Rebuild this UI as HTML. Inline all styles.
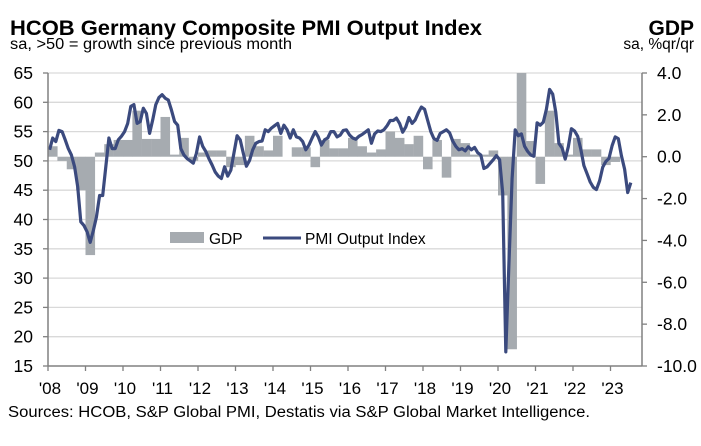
<!DOCTYPE html>
<html><head><meta charset="utf-8"><style>
html,body{margin:0;padding:0;background:#fff;}
svg{display:block;font-family:"Liberation Sans",Arial,sans-serif;}
</style></head><body>
<svg id="chart" width="701" height="446" viewBox="0 0 701 446">
<text x="10" y="35" font-size="21" font-weight="bold" fill="#000" textLength="472" lengthAdjust="spacingAndGlyphs">HCOB Germany Composite PMI Output Index</text>
<text x="10" y="49" font-size="15.5" fill="#000" textLength="282" lengthAdjust="spacingAndGlyphs">sa, &gt;50 = growth since previous month</text>
<text x="694" y="35" font-size="21" font-weight="bold" text-anchor="end" fill="#000">GDP</text>
<text x="694" y="49" font-size="15.5" text-anchor="end" fill="#000">sa, %qr/qr</text>
<g id="grid"></g>
<g id="bars"></g>
<g id="line"></g>
<g id="axes"></g>
<g>
<rect x="170" y="232" width="34" height="11" fill="#a6abb0"/>
<text x="209" y="244" font-size="15.5">GDP</text>
<line x1="263" y1="238" x2="301" y2="238" stroke="#3b4a7e" stroke-width="3"/>
<text x="305" y="244" font-size="15.5">PMI Output Index</text>
</g>
<text x="8" y="417" font-size="15.5" textLength="582" lengthAdjust="spacingAndGlyphs">Sources: HCOB, S&amp;P Global PMI, Destatis via S&amp;P Global Market Intelligence.</text>
</svg>
<script>
const leftTicks = [65,60,55,50,45,40,35,30,25,20,15];
const rightTicks = ["4.0","2.0","0.0","-2.0","-4.0","-6.0","-8.0","-10.0"];
const rightTickValues = [4,2,0,-2,-4,-6,-8,-10];
const yearLabels = ["'08","'09","'10","'11","'12","'13","'14","'15","'16","'17","'18","'19","'20","'21","'22","'23"];
const pmi = [51.9,53.9,53.3,55.2,55.0,53.6,52.1,51.0,49.0,45.6,39.6,39.0,37.9,36.1,38.1,40.4,44.1,44.1,49.0,53.9,52.1,52.1,53.6,54.2,55.0,56.4,59.3,59.6,56.4,56.7,59.0,58.1,54.7,57.0,59.6,60.8,61.3,60.7,60.4,58.7,56.7,56.1,52.1,51.0,50.4,50.0,49.6,51.3,54.1,
52.5,51.6,50.4,49.3,48.1,47.4,47.0,49.0,47.4,48.4,51.3,54.3,53.6,51.3,49.1,50.1,51.9,53.0,53.3,53.4,55.3,55.0,55.6,56.0,56.4,54.7,56.1,55.3,53.9,55.3,54.1,53.9,53.3,51.9,52.7,53.9,55.0,54.1,52.7,53.6,53.9,55.0,55.0,54.1,54.4,55.2,55.3,54.4,
53.9,53.7,54.2,54.5,54.9,55.3,53.0,54.6,55.1,55.0,55.3,56.0,56.9,56.9,57.3,56.4,54.9,55.8,57.4,56.4,57.0,58.2,59.2,58.8,56.9,55.0,53.8,53.5,54.7,55.0,55.3,54.8,53.4,52.5,51.9,52.1,51.7,52.4,51.9,52.3,51.4,51.0,48.7,49.0,49.6,50.2,50.9,
50.2,44.5,17.4,32.3,47.0,55.3,54.3,54.6,52.5,51.6,51.0,50.8,56.5,56.1,56.6,58.8,62.2,61.4,58.3,53.0,52.2,50.3,52.4,55.5,55.1,54.2,52.0,49.2,47.8,46.4,45.5,45.1,46.6,48.9,49.9,50.4,52.6,54.1,53.8,50.9,48.6,44.6,46.3];
const gdp = [0.5,-0.2,-0.6,-1.6,-4.7,0.2,0.6,0.8,0.8,2.2,0.85,0.85,1.9,0.1,0.9,-0.2,0.2,0.3,0.3,-0.5,-0.4,1.0,0.5,0.3,1.0,0.0,0.45,0.45,-0.5,0.8,0.4,0.4,0.9,0.5,0.2,0.35,1.2,0.9,0.6,1.0,-0.6,0.8,-1.0,0.85,0.65,0.1,0.1,0.3,-1.85,-9.2,8.5,0.75,-1.3,2.2,0.65,0.1,0.9,0.35,0.35,-0.4,-0.25,0.0];

const NS="http://www.w3.org/2000/svg";
const X0=48,X1=642,Y0=73,Y1=366,YEAR=37.5;
const yL=v=>Y0+(65-v)*(Y1-Y0)/50;
const yR=v=>Y0+(4-v)*(Y1-Y0)/14;
const xM=m=>X0+(m+0.5)*YEAR/12;
const xQ=q=>X0+q*YEAR/4;
function mk(tag,parent,attrs){const e=document.createElementNS(NS,tag);for(const k in attrs)e.setAttribute(k,attrs[k]);parent.appendChild(e);return e;}
const grid=document.getElementById('grid'),bars=document.getElementById('bars'),lineG=document.getElementById('line'),axes=document.getElementById('axes');
leftTicks.forEach(v=>{
  if(v>15){const g=mk('line',grid,{x1:X0,x2:X1,y1:yL(v),y2:yL(v),stroke:'#d9d9d9','stroke-width':1.3});
  
  }
  const t=mk('line',axes,{x1:X0-5,x2:X0,y1:yL(v),y2:yL(v),stroke:'#808080','stroke-width':1.3});
  
  
  const l=mk('text',axes,{x:33,y:yL(v)+6,'font-size':17.5,'text-anchor':'end'});l.textContent=v;
  
  
});
rightTickValues.forEach((v,i)=>{
  const t=mk('line',axes,{x1:X1,x2:X1+5,y1:yR(v),y2:yR(v),stroke:'#808080','stroke-width':1.3});
  
  
  const l=mk('text',axes,{x:X1+15,y:yR(v)+6,'font-size':17.5});l.textContent=rightTicks[i];
  
  
});
yearLabels.forEach((s,i)=>{
  const x=X0+i*YEAR;
  const t=mk('line',axes,{x1:x,x2:x,y1:Y1,y2:Y1+5,stroke:'#808080','stroke-width':1.3});
  
  
  const l=mk('text',axes,{x:x+2,y:394,'font-size':17,'text-anchor':'middle'});l.textContent=s;
  
  
});
gdp.forEach((v,q)=>{
  let a=yR(v),b=yR(0);let top=Math.max(Y0,Math.min(a,b)),bot=Math.min(Y1,Math.max(a,b));
  const r=mk('rect',bars,{x:xQ(q),y:top,width:YEAR/4+0.2,height:bot-top,fill:'#a6abb0'});
  
  
});
const p=mk('polyline',lineG,{points:pmi.map((v,m)=>xM(m).toFixed(1)+','+yL(v).toFixed(1)).join(' '),fill:'none',stroke:'#3b4a7e','stroke-width':3.2,'stroke-linejoin':'round'});


const la=mk('line',axes,{x1:X0,x2:X0,y1:Y0,y2:Y1,stroke:'#808080','stroke-width':1.5});


const ra=mk('line',axes,{x1:X1,x2:X1,y1:Y0,y2:Y1,stroke:'#808080','stroke-width':1.5});


const ba=mk('line',axes,{x1:X0,x2:X1,y1:Y1,y2:Y1,stroke:'#808080','stroke-width':1.5});


</script>
</body></html>
